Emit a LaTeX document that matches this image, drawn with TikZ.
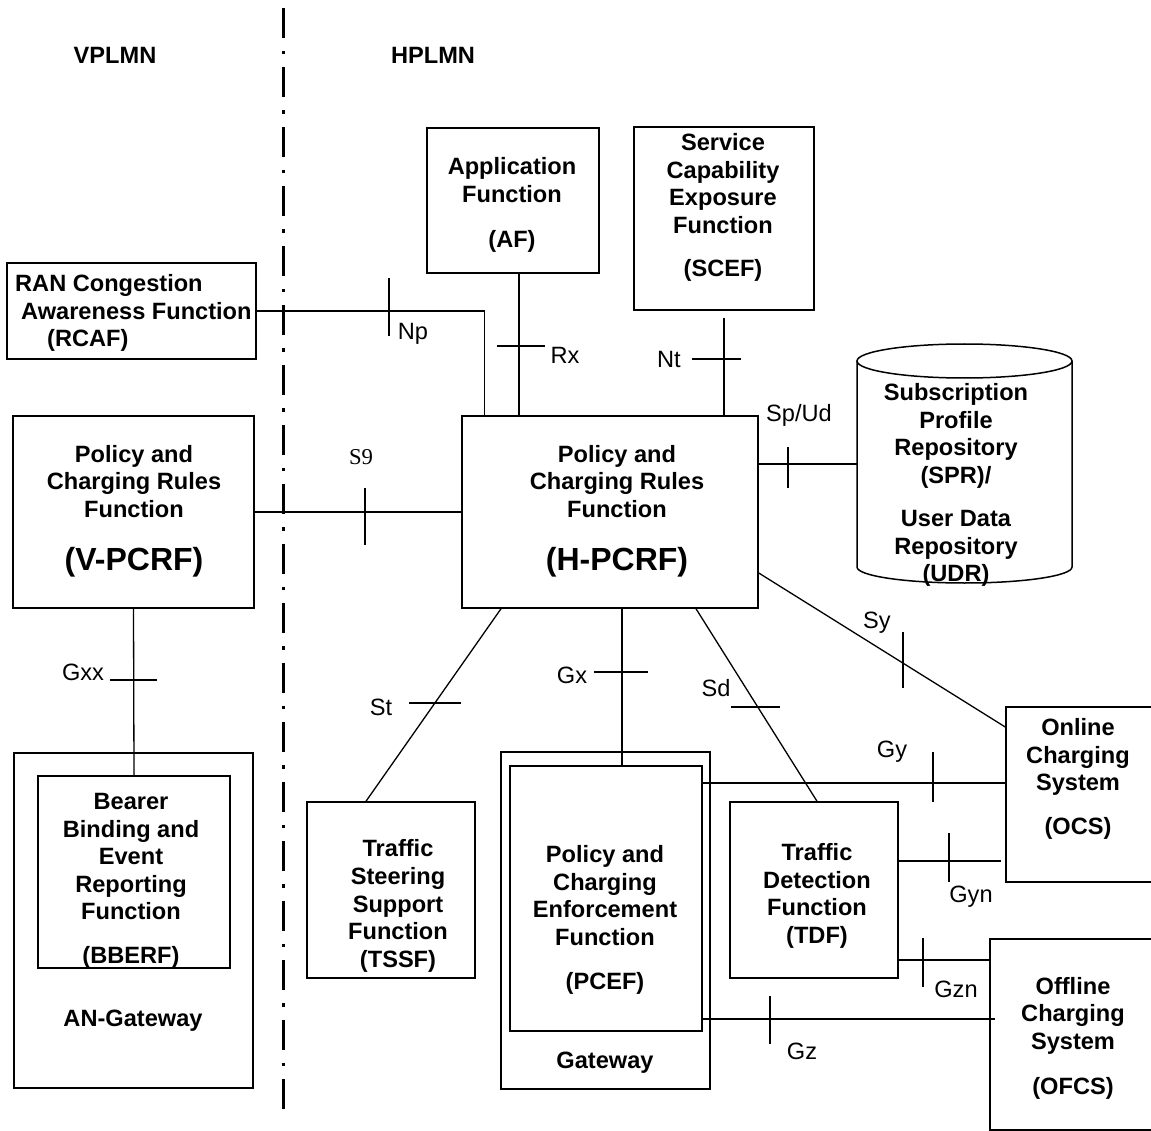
\documentclass[tikz,border=0pt]{standalone}
\usepackage{fontspec}
\setmainfont{Liberation Sans}
\newfontfamily\timesfont{Liberation Serif}
\usetikzlibrary{calc}
\begin{document}
\begin{tikzpicture}[x=1pt,y=-1pt,
  box/.style={draw, line width=1.5pt, inner sep=0pt},
  conn/.style={line width=1.3pt},
  tick/.style={line width=1.1pt},
  ttl/.style={font=\fontsize{23.6}{27.6}\selectfont\bfseries, align=center, inner sep=0pt},
  lbl/.style={font=\fontsize{23.6}{27.6}\selectfont, inner sep=0pt},
  border/.style={line width=3pt, dash pattern=on 30pt off 13pt on 3.5pt off 13pt}
]
\useasboundingbox (0,0) rectangle (1151,1131);
\clip (0,0) rectangle (1151,1131);

% domain border
\coordinate (bordertop) at (283,8);
\coordinate (borderbot) at (283,1112);
\draw[border] (bordertop) -- (borderbot);
\node[ttl] (vplmn) at (115,55) {VPLMN};
\node[ttl] (hplmn) at (433,55) {HPLMN};

% boxes
\node[box, minimum width=249pt, minimum height=96pt] (rcaf) at (131.5,311) {};
\node[box, minimum width=172pt, minimum height=145pt] (af) at (513,200.5) {};
\node[box, minimum width=180pt, minimum height=183pt] (scef) at (724,218.5) {};
\node[box, minimum width=241pt, minimum height=192pt] (vpcrf) at (133.5,512) {};
\node[box, minimum width=296pt, minimum height=192pt] (hpcrf) at (610,512) {};
\node[box, minimum width=239pt, minimum height=335pt] (angw) at (133.5,920.5) {};
\node[box, minimum width=192pt, minimum height=192pt] (bberf) at (134,872) {};
\node[box, minimum width=168pt, minimum height=176pt] (tssf) at (391,890) {};
\node[box, minimum width=209pt, minimum height=337pt] (gw) at (605.5,920.5) {};
\node[box, minimum width=192pt, minimum height=265pt] (pcef) at (606,898.5) {};
\node[box, minimum width=168pt, minimum height=176pt] (tdf) at (814,890) {};
\node[box, minimum width=164pt, minimum height=175pt] (ocs) at (1088,794.5) {};
\node[box, minimum width=180pt, minimum height=191pt] (ofcs) at (1080,1034.5) {};

% SPR / UDR cylinder
\node[inner sep=0pt, minimum width=215pt, minimum height=206pt] (spr) at (964.5,464) {};
\draw[line width=1.5pt] (857,361) -- (857,567) arc[start angle=180, end angle=360, x radius=107.5pt, y radius=16pt] -- (1072,361);
\draw[line width=1.5pt] (964.5,361) ellipse [x radius=107.5pt, y radius=17pt];

% box texts
\node[ttl, align=left, anchor=west] (rcaf-t) at (15,313) {RAN Congestion\\\hspace*{6pt}Awareness Function\\\hspace*{32pt}(RCAF)};
\node[ttl] (af-t) at (512,205) {Application\\Function\\[17pt](AF)};
\node[ttl] (scef-t) at (723,207.5) {Service\\Capability\\Exposure\\Function\\[15.4pt](SCEF)};
\node[ttl] (vpcrf-t) at (134,511) {Policy and\\Charging Rules\\Function\\[25.4pt]{\fontsize{32}{36}\selectfont (V-PCRF)}};
\node[ttl] (hpcrf-t) at (617,511) {Policy and\\Charging Rules\\Function\\[25.4pt]{\fontsize{32}{36}\selectfont (H-PCRF)}};
\node[ttl] (spr-t) at (956,485) {Subscription\\Profile\\Repository\\(SPR)/\\[15.4pt]User Data\\Repository\\(UDR)};
\node[ttl] (bberf-t) at (131,881) {Bearer\\Binding and\\Event\\Reporting\\Function\\[16.4pt](BBERF)};
\node[ttl] (angw-t) at (133,1021) {AN-Gateway};
\node[ttl] (tssf-t) at (398,906) {Traffic\\Steering\\Support\\Function\\(TSSF)};
\node[ttl] (pcef-t) at (605,920) {Policy and\\Charging\\Enforcement\\Function\\[16.4pt](PCEF)};
\node[ttl] (gw-t) at (605,1063) {Gateway};
\node[ttl] (tdf-t) at (817,896) {Traffic\\Detection\\Function\\(TDF)};
\node[ttl] (ocs-t) at (1078,779) {Online\\Charging\\System\\[16.4pt](OCS)};
\node[ttl] (ofcs-t) at (1073,1038) {Offline\\Charging\\System\\[17.4pt](OFCS)};

% connectors
\draw[conn] (rcaf.east) -| ([xshift=23pt]hpcrf.north west);
\draw[conn] ([xshift=6pt]af.south) -- ([xshift=6pt]af.south |- hpcrf.north);
\draw[conn] ([yshift=-7pt]scef.south) -- (scef.south |- hpcrf.north);
\draw[conn] (hpcrf.east |- spr.west) -- (spr.west);
\draw[conn] (vpcrf.east) -- (hpcrf.west);
\draw[conn] (vpcrf.south) -- (bberf.north);
\draw[conn] ([xshift=-109pt]hpcrf.south) -- ([xshift=-25pt]tssf.north);
\draw[conn] ([xshift=12pt]hpcrf.south) -- ([xshift=16pt]pcef.north);
\draw[conn] ([xshift=86pt]hpcrf.south) -- ([xshift=3pt]tdf.north);
\draw[conn] ([yshift=-61pt]hpcrf.east) -- ([yshift=67.5pt]ocs.west);
\draw[conn] ([yshift=115.5pt]pcef.east) -- ([yshift=115.5pt]pcef.east -| ocs.west);
\coordinate (gynend) at (1001,861);
\draw[conn] (tdf.east |- gynend) -- (gynend);
\draw[conn] ([yshift=-70pt]tdf.east) -- ([yshift=-70pt]tdf.east -| ofcs.west);
\coordinate (gzend) at (995,1019);
\draw[conn] (pcef.east |- gzend) -- (gzend);

% ticks
\coordinate (npT) at (389,307);   \draw[tick] (npT) +(0,-29) -- +(0,29);
\coordinate (rxT) at (521,346);   \draw[tick] (rxT) +(-24,0) -- +(24,0);
\coordinate (ntT) at (716.5,359); \draw[tick] (ntT) +(-24.5,0) -- +(24.5,0);
\coordinate (spT) at (788,467.5); \draw[tick] (spT) +(0,-20.5) -- +(0,20.5);
\coordinate (s9T) at (365,516.5); \draw[tick] (s9T) +(0,-28.5) -- +(0,28.5);
\coordinate (gxxT) at (133.5,680); \draw[tick] (gxxT) +(-23.5,0) -- +(23.5,0);
\coordinate (gxT) at (621,672);   \draw[tick] (gxT) +(-27,0) -- +(27,0);
\coordinate (stT) at (435,703);   \draw[tick] (stT) +(-26,0) -- +(26,0);
\coordinate (sdT) at (755.5,707); \draw[tick] (sdT) +(-24.5,0) -- +(24.5,0);
\coordinate (syT) at (903,660);   \draw[tick] (syT) +(0,-28) -- +(0,28);
\coordinate (gyT) at (933,777);   \draw[tick] (gyT) +(0,-25) -- +(0,25);
\coordinate (gynT) at (949,857.5); \draw[tick] (gynT) +(0,-24.5) -- +(0,24.5);
\coordinate (gznT) at (923,962.5); \draw[tick] (gznT) +(0,-24.5) -- +(0,24.5);
\coordinate (gzT) at (770,1020);  \draw[tick] (gzT) +(0,-24) -- +(0,24);

% interface labels
\node[lbl] (np-l) at (413,334) {Np};
\node[lbl] (rx-l) at (565,355) {Rx};
\node[lbl] (nt-l) at (669,359) {Nt};
\node[lbl] (spud-l) at (799,415) {Sp/Ud};
\node[lbl, font=\fontsize{22.7}{26}\selectfont\timesfont] (s9-l) at (361,457) {S9};
\node[lbl] (gxx-l) at (83,672) {Gxx};
\node[lbl] (gx-l) at (572,675) {Gx};
\node[lbl] (st-l) at (381,707) {St};
\node[lbl] (sd-l) at (716,688) {Sd};
\node[lbl] (sy-l) at (877,623) {Sy};
\node[lbl] (gy-l) at (892,752) {Gy};
\node[lbl] (gyn-l) at (971,897) {Gyn};
\node[lbl] (gzn-l) at (956,989) {Gzn};
\node[lbl] (gz-l) at (802,1051) {Gz};
\end{tikzpicture}
\end{document}
